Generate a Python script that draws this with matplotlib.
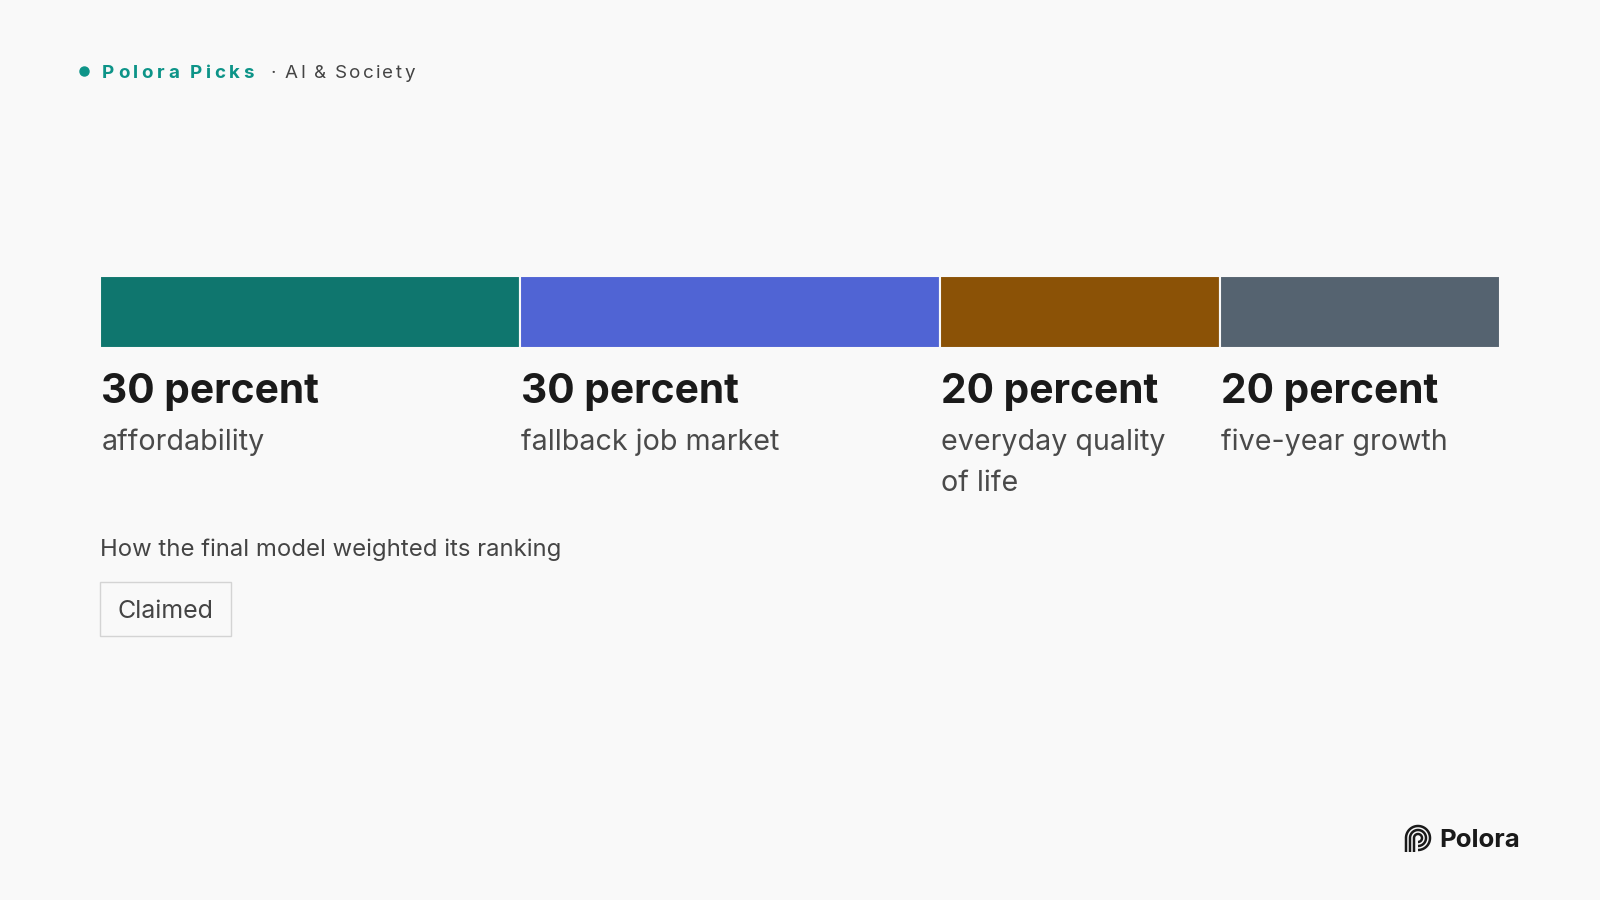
import numpy as np
import matplotlib as mpl
mpl.use("Agg")
import matplotlib.pyplot as plt
from matplotlib.transforms import blended_transform_factory
from matplotlib.patches import Rectangle

mpl.rc('font', family=['Inter', 'DejaVu Sans'])

# data
weights = [30, 30, 20, 20]
headings = ["30 percent", "30 percent", "20 percent", "20 percent"]
labels = ["affordability", "fallback job market", "everyday quality\nof life", "five-year growth"]
colors = ["#0f766e", "#5064d4", "#8b5206", "#556370"]
brand = "Polora Picks"
topic = "AI & Society"
subtitle = "How the final model weighted its ranking"
tag = "Claimed"
logo = "Polora"

BG = "#f9f9f9"
W, H = 1600, 900

fig = plt.figure(figsize=(16, 9), dpi=100, facecolor=BG)
bg = fig.add_axes([0, 0, 1, 1])
bg.set_xlim(0, W)
bg.set_ylim(H, 0)
bg.axis('off')
bg.patch.set_alpha(0)

# stacked bar, drawn in its own axes (x in percent)
bar_left, bar_right, bar_top, bar_bot = 100, 1500, 276, 348
bax = fig.add_axes([bar_left / W, 1 - bar_bot / H, (bar_right - bar_left) / W, (bar_bot - bar_top) / H])
bax.set_xlim(0, sum(weights))
bax.set_ylim(-0.5, 0.5)
bax.axis('off')
lefts = np.concatenate([[0], np.cumsum(weights)[:-1]])
bax.barh(0, weights, left=lefts, height=1, color=colors, edgecolor=BG, linewidth=1.5)

trans = blended_transform_factory(bax.transData, bg.transData)
for l, h, lab in zip(lefts, headings, labels):
    bg.text(l + 0.1, 403, h, transform=trans, fontsize=29.3, fontweight='bold',
            color='#1a1a1a', va='baseline', ha='left')
    for i, line in enumerate(lab.split("\n")):
        bg.text(l + 0.1, 450 + 41 * i, line, transform=trans, fontsize=20.6,
                color='#4a4a4a', va='baseline', ha='left')

# header with letter spacing
fig.canvas.draw()
r = fig.canvas.get_renderer()

def spaced(x, y, s, spacing, **kw):
    for ch in s:
        if ch == " ":
            x += kw.get('fontsize', 12) * 0.3 + spacing
            continue
        t = bg.text(x, y, ch, va='baseline', ha='left', **kw)
        bb = t.get_window_extent(renderer=r)
        x += bb.width + spacing
    return x

bg.plot([84], [71], 'o', color='#0d9488', markersize=6.5)
spaced(102, 78, brand, 3.6, fontsize=13.5, fontweight='bold', color='#0d9488')
bg.text(271, 78, "·", fontsize=13.5, color='#444444', va='baseline', ha='left')
spaced(285, 78, topic, 2.3, fontsize=13.5, color='#444444')

# subtitle and tag
bg.text(100, 556, subtitle, fontsize=17.2, color='#444444', va='baseline', ha='left')
bg.add_patch(Rectangle((100, 582), 131, 54, facecolor=BG, edgecolor='#d4d4d4', linewidth=1))
bg.text(165.5, 618, tag, fontsize=18, color='#444444', va='baseline', ha='center')

# logo
cx, cy = 1418, 838
theta = np.linspace(-np.pi / 2, np.pi, 80)
for rad in [12, 8, 4]:
    xs = np.concatenate([cx + rad * np.cos(theta), [cx - rad]])
    ys = np.concatenate([cy - rad * np.sin(theta), [852]])
    bg.plot(xs, ys, color='#1a1a1a', linewidth=1.8, solid_capstyle='butt')
bg.text(1439, 847, logo, fontsize=18.5, fontweight='bold', color='#1a1a1a', va='baseline', ha='left')

fig.savefig("out.png", dpi=100, facecolor=BG)
